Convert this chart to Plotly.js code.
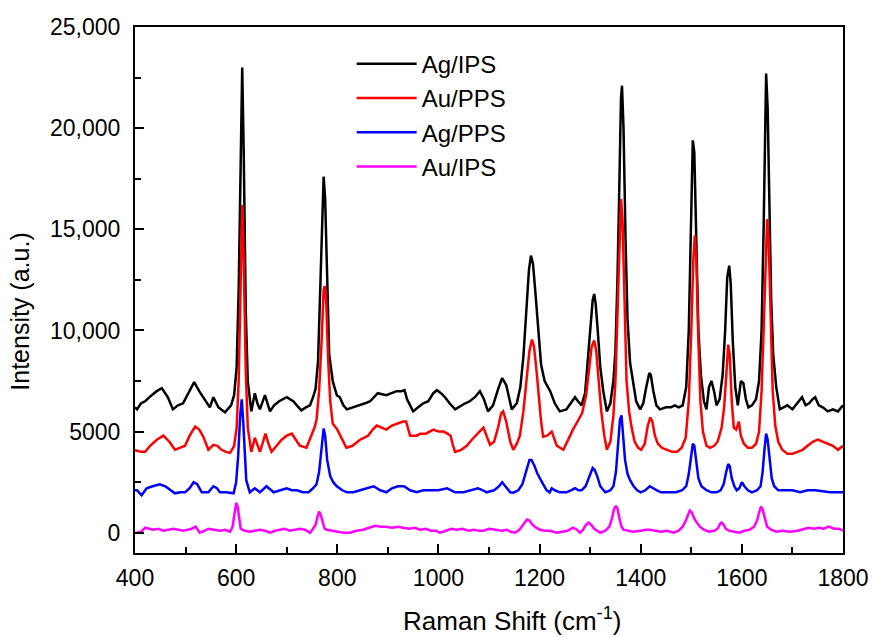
<!DOCTYPE html>
<html>
<head>
<meta charset="utf-8">
<script src="https://cdn.plot.ly/plotly-3.0.1.min.js"></script>
<style>html,body{margin:0;padding:0;background:#fff;}#chart{width:872px;height:637px;}</style>
</head>
<body>
<div id="chart"></div>
<script>
// Series names
const seriesNames = ["Ag/IPS", "Au/PPS", "Ag/PPS", "Au/IPS"];

// Ag/IPS (black)
const agIpsX = [400,404,412,420,433,443,453,465,475,485,495,505,517,527,535,542,548,555,565,578,590,596,601,605,609,612,615,619,623,630,637,642,647,652,657,662,667,675,685,700,713,720,729,738,746,752,757,762,767,771,773,776,780,784,791,799,805,812,819,825,835,845,855,865,880,897,908,917,927,933,938,944,950,960,970,980,990,997,1005,1013,1022,1033,1045,1053,1062,1072,1082,1090,1098,1108,1118,1126,1134,1145,1155,1162,1168,1174,1179,1183,1187,1192,1197,1203,1210,1221,1230,1240,1253,1262,1270,1276,1283,1290,1296,1301,1305,1308,1311,1315,1320,1326,1333,1340,1346,1350,1354,1358,1361,1363,1366,1370,1374,1379,1384,1391,1399,1405,1411,1417,1420,1425,1431,1438,1450,1460,1467,1475,1483,1490,1495,1499,1503,1506,1510,1514,1519,1525,1530,1535,1540,1545,1550,1556,1562,1567,1571,1575,1578,1582,1587,1592,1598,1603,1608,1613,1620,1628,1634,1639,1643,1646,1648,1651,1654,1658,1662,1668,1675,1682,1690,1700,1710,1719,1726,1733,1740,1745,1752,1760,1770,1780,1790,1800];
const agIpsY = [6200,6100,6400,6500,6800,7000,7150,6700,6100,6300,6400,6900,7450,7000,6700,6400,6200,6700,6200,5950,6300,6800,8200,12000,18500,23000,18800,11000,7500,6000,6900,6400,6100,6500,6800,6400,6000,6300,6500,6700,6500,6300,6050,6200,6300,6700,7100,8500,12500,16800,17600,16500,12000,8800,7500,6800,6700,6300,6100,6150,6200,6300,6400,6500,6900,6800,6900,7000,7000,7050,6600,6300,6000,6200,6400,6500,6900,7050,6900,6700,6400,6100,6300,6400,6500,6700,7000,6600,6000,6300,7100,7650,7300,6100,6400,7200,8700,11000,13000,13700,13300,11800,10000,8300,7500,7000,6400,6000,6100,6400,6700,6500,6300,6900,8800,10500,11500,11800,11300,10000,8200,7000,6000,6400,7500,9000,12500,17500,21500,22100,20000,14500,10500,8400,7500,6500,6100,6400,7200,7900,7800,7000,6300,6100,6200,6200,6300,6200,6300,7200,10000,15000,19400,18800,14000,10000,7800,6500,6100,7200,7500,7000,6300,6600,7800,10000,12600,13200,12300,9500,7200,6300,7500,7400,6600,6200,6300,6600,7500,10000,15000,20500,22700,21000,16500,11500,8800,7200,6100,6200,6300,6100,6400,6700,6300,6400,6600,6700,6300,6200,6000,6100,6000,6300];

// Au/PPS (red)
const auPpsX = [400,404,412,420,430,443,456,468,479,490,499,508,519,527,535,545,555,563,571,580,588,596,601,605,609,612,615,619,623,630,637,642,647,652,658,664,670,680,690,700,710,718,726,739,749,755,759,764,769,773,775,778,782,786,791,800,808,818,830,845,861,870,878,887,897,908,920,930,936,944,957,964,975,990,1000,1010,1018,1024,1029,1033,1045,1056,1066,1078,1089,1095,1102,1110,1118,1124,1128,1134,1142,1148,1155,1161,1168,1174,1180,1185,1189,1194,1199,1203,1207,1215,1224,1229,1234,1247,1256,1266,1275,1284,1292,1298,1303,1308,1312,1317,1322,1328,1333,1340,1346,1350,1354,1358,1361,1364,1368,1372,1377,1382,1388,1395,1401,1408,1414,1419,1423,1428,1434,1442,1452,1462,1472,1481,1489,1495,1500,1504,1507,1510,1514,1518,1523,1530,1537,1545,1552,1560,1565,1569,1573,1576,1580,1584,1589,1594,1598,1604,1612,1620,1628,1634,1639,1643,1647,1650,1653,1657,1661,1666,1672,1680,1690,1700,1710,1720,1730,1740,1750,1760,1770,1780,1790,1800];
const auPpsY = [4100,4050,4000,4000,4300,4600,4800,4500,4100,4200,4300,4800,5250,5100,4750,4100,4350,4300,4100,4000,3950,4300,5200,7500,12500,16200,13500,8000,5200,4000,4700,4300,4000,4400,4900,4400,4000,4300,4600,4800,4900,4600,4300,4200,4800,5200,5600,7000,9500,12000,12200,11500,8500,6500,5400,5100,4700,4200,4300,4600,4800,5100,5300,5200,5100,5300,5400,5500,5500,4800,4800,4900,4900,5100,5000,5000,4900,4800,4300,4000,4100,4300,4600,4900,5200,4800,4350,4500,5200,5900,6000,5500,4500,4100,4400,4800,6000,7500,9000,9550,9200,8000,6500,5500,4750,4800,5000,4600,4300,4100,4600,5100,5500,5900,6800,8200,9200,9500,9000,7500,6000,4800,4100,4500,5800,7500,10500,14500,16500,15500,11000,7500,6000,5200,4500,4200,4100,4400,5300,5700,5500,4800,4400,4200,4100,4000,4000,4200,4700,6500,10000,13500,14700,13500,9500,6500,5000,4300,4200,4300,4500,5200,6200,7800,9300,8800,6500,5200,5100,5500,4800,4400,4200,4200,4400,5000,7000,10000,14000,15500,14500,10500,7000,5300,4500,4100,3900,3900,4000,4100,4300,4500,4600,4500,4400,4300,4100,4300];

// Ag/PPS (blue)
const agPpsX = [400,404,413,423,435,449,460,470,479,490,499,508,516,523,532,545,555,562,568,580,595,600,604,608,611,614,617,620,627,637,647,660,674,687,700,710,720,732,743,752,759,764,769,773,776,780,786,792,799,810,819,832,845,858,872,885,897,908,920,932,944,957,970,985,1000,1017,1025,1033,1050,1064,1078,1088,1095,1110,1120,1126,1133,1142,1148,1158,1166,1173,1180,1184,1190,1196,1202,1207,1214,1220,1224,1230,1240,1253,1262,1270,1277,1283,1291,1298,1305,1309,1314,1320,1330,1340,1346,1351,1355,1359,1362,1365,1369,1374,1379,1386,1393,1400,1409,1418,1424,1432,1440,1455,1470,1482,1490,1495,1499,1503,1506,1510,1514,1520,1530,1540,1550,1558,1564,1569,1573,1576,1580,1585,1590,1595,1600,1605,1612,1620,1630,1637,1641,1645,1648,1651,1655,1659,1664,1672,1685,1700,1715,1730,1745,1760,1775,1790,1800];
const agPpsY = [2100,2100,1850,2200,2300,2400,2300,2100,1950,2000,2000,2200,2500,2400,2000,2000,2300,2200,2000,2000,1950,2500,3800,5800,6600,5500,3800,2600,2000,2200,2000,2300,2000,2100,2200,2100,2100,2000,2000,2200,2400,3000,4300,5150,4800,3600,2800,2500,2300,2100,2000,2000,2100,2200,2300,2100,2000,2200,2300,2300,2100,2000,2100,2100,2100,2200,2100,2000,2000,2100,2200,2100,2000,2100,2300,2500,2300,2000,1980,2100,2400,3000,3600,3600,3300,2900,2600,2400,2100,2000,2200,2100,2000,2000,2100,2200,2100,2100,2300,2800,3200,3100,2800,2300,2000,2100,2300,3000,4200,5600,5800,5000,3600,2900,2600,2300,2100,2000,2100,2300,2200,2100,2000,2000,2000,2100,2300,2900,3800,4400,4300,3500,2700,2300,2100,2000,2000,2100,2400,3000,3400,3300,2700,2300,2100,2200,2500,2300,2100,2000,2100,2300,3000,4200,4900,4600,3500,2700,2300,2100,2100,2100,2000,2100,2100,2050,2000,2000,2000];

// Au/IPS (magenta)
const auIpsX = [400,404,412,420,436,446,456,466,476,486,495,504,512,520,528,537,545,556,568,578,588,593,597,600,603,606,609,617,627,637,647,657,667,677,686,696,706,716,726,736,746,752,757,761,764,767,771,775,779,789,799,812,825,838,851,863,875,886,897,908,920,930,942,953,964,975,985,995,1003,1015,1025,1036,1047,1060,1070,1080,1089,1100,1112,1125,1135,1143,1151,1160,1166,1171,1175,1180,1186,1193,1201,1210,1220,1234,1245,1255,1266,1274,1280,1286,1292,1297,1302,1308,1314,1320,1330,1338,1343,1347,1351,1354,1358,1362,1366,1375,1385,1400,1410,1418,1430,1440,1452,1465,1475,1483,1489,1494,1497,1501,1506,1511,1517,1525,1535,1545,1552,1557,1560,1564,1568,1575,1585,1595,1605,1615,1624,1630,1634,1638,1641,1645,1650,1658,1668,1680,1695,1710,1722,1732,1742,1752,1762,1772,1782,1792,1800];
const auIpsY = [0,0,50,250,150,200,100,150,200,150,100,150,200,300,0,100,200,150,100,150,50,300,900,1480,1300,700,200,100,50,100,150,100,0,100,150,200,100,150,200,150,0,200,400,800,1050,900,500,200,150,100,50,0,0,100,150,250,350,300,300,250,300,250,200,250,150,200,100,100,0,100,200,150,200,100,150,100,100,200,150,100,150,50,0,150,350,550,650,600,400,250,150,100,100,0,50,100,250,150,0,150,400,500,400,200,100,0,100,300,700,1150,1330,1200,700,300,150,100,50,100,150,150,100,50,100,0,100,300,600,950,1100,1000,700,500,300,150,50,100,200,450,500,400,200,100,50,0,100,150,300,600,1000,1300,1150,700,300,150,50,100,50,100,200,250,200,250,200,300,200,200,100];

// Axis ticks and titles
const xTickVals = [400,600,800,1000,1200,1400,1600,1800];
const xMinorVals = [500,700,900,1100,1300,1500,1700];
const yTickVals = [0,5000,10000,15000,20000,25000];
const yTickText = ["0","5000","10,000","15,000","20,000","25,000"];
const yMinorVals = [2500,7500,12500,17500,22500];
const xTitle = "Raman Shift (cm<sup>-1</sup>)";
const yTitle = "Intensity (a.u.)";

const colors = ["#000000", "#ff0000", "#0000ff", "#ff00ff"];
const xs = [agIpsX, auPpsX, agPpsX, auIpsX];
const ys = [agIpsY, auPpsY, agPpsY, auIpsY];

const FONT = "Liberation Sans, Arial, sans-serif";

const traces = seriesNames.map((name, i) => ({
  type: "scatter",
  mode: "lines",
  name: name,
  x: xs[i],
  y: ys[i],
  line: {color: colors[i], width: 2.5},
  hoverinfo: "skip"
}));

const axisCommon = {
  showline: true,
  linewidth: 2,
  linecolor: "#000",
  mirror: true,
  ticks: "inside",
  ticklen: 9,
  tickwidth: 2,
  tickcolor: "#000",
  showgrid: false,
  zeroline: false,
  tickfont: {family: FONT, size: 23, color: "#000"}
};

const layout = {
  width: 872,
  height: 637,
  margin: {l: 135, r: 29, t: 27, b: 84},
  paper_bgcolor: "#fff",
  plot_bgcolor: "#fff",
  showlegend: true,
  legend: {
    x: 0.306, y: 0.972, xanchor: "left", yanchor: "top",
    bgcolor: "rgba(0,0,0,0)",
    font: {family: FONT, size: 24, color: "#000"},
    itemwidth: 60,
    traceorder: "normal"
  },
  xaxis: Object.assign({}, axisCommon, {
    range: [400, 1800],
    tickmode: "array",
    tickvals: xTickVals,
    minor: {tickmode: "array", tickvals: xMinorVals, ticks: "inside", ticklen: 6, tickwidth: 2, tickcolor: "#000", showgrid: false},
    ticklabelstandoff: 3
  }),
  yaxis: Object.assign({}, axisCommon, {
    range: [-1000, 25000],
    tickmode: "array",
    tickvals: yTickVals,
    ticktext: yTickText,
    minor: {tickmode: "array", tickvals: yMinorVals, ticks: "inside", ticklen: 6, tickwidth: 2, tickcolor: "#000", showgrid: false},
    ticklabelstandoff: 8
  }),
  annotations: [
    {text: xTitle, xref: "paper", yref: "paper", x: 0.5325, y: -0.127, xanchor: "center", yanchor: "middle",
     showarrow: false, font: {family: FONT, size: 26, color: "#000"}},
    {text: yTitle, xref: "paper", yref: "paper", x: -0.163, y: 0.458, xanchor: "center", yanchor: "middle",
     textangle: -90, showarrow: false, font: {family: FONT, size: 25, color: "#000"}}
  ]
};

Plotly.newPlot("chart", traces, layout, {displayModeBar: false, staticPlot: true});
</script>
</body>
</html>
